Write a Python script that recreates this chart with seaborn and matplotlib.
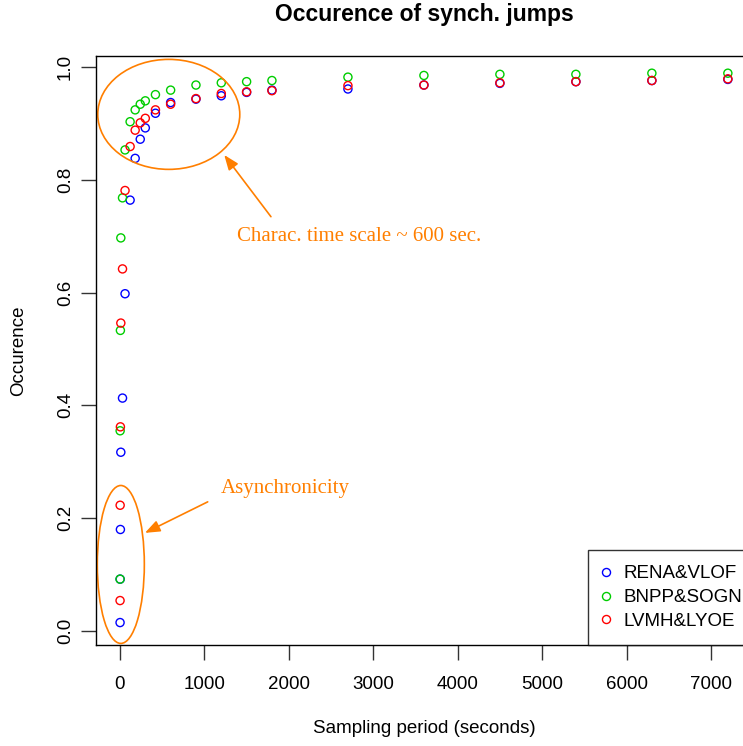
import numpy as np
import pandas as pd
import matplotlib
matplotlib.use("Agg")
import matplotlib.pyplot as plt
import seaborn as sns
from matplotlib.lines import Line2D
from matplotlib.patches import Ellipse

# sampling periods (seconds)
periods = [1, 2, 5, 10, 30, 60, 120, 180, 240, 300, 420, 600, 900, 1200,
           1500, 1800, 2700, 3600, 4500, 5400, 6300, 7200]

# occurence of synchronous jumps per pair
rena_vlof = [0.015, 0.092, 0.180, 0.317, 0.413, 0.598, 0.764, 0.838, 0.872,
             0.892, 0.918, 0.937, 0.943, 0.949, 0.955, 0.959, 0.961, 0.968,
             0.971, 0.974, 0.976, 0.978]
bnpp_sogn = [0.092, 0.355, 0.533, 0.697, 0.768, 0.853, 0.903, 0.924, 0.934,
             0.940, 0.951, 0.959, 0.968, 0.972, 0.974, 0.976, 0.982, 0.985,
             0.987, 0.987, 0.989, 0.989]
lvmh_lyoe = [0.054, 0.223, 0.362, 0.546, 0.642, 0.781, 0.859, 0.888, 0.901,
             0.909, 0.924, 0.934, 0.944, 0.953, 0.956, 0.958, 0.967, 0.968,
             0.972, 0.974, 0.976, 0.979]

pairs = ["RENA&VLOF", "BNPP&SOGN", "LVMH&LYOE"]
colors = {"RENA&VLOF": "#0000FF", "BNPP&SOGN": "#00CD00", "LVMH&LYOE": "#FF0000"}
orange = "#FF7F00"

df = pd.concat([
    pd.DataFrame({"period": periods, "occ": vals, "pair": name})
    for name, vals in zip(pairs, [rena_vlof, bnpp_sogn, lvmh_lyoe])
], ignore_index=True)

sns.set_style("ticks")
plt.rcParams["font.family"] = ["Liberation Sans", "DejaVu Sans"]
plt.rcParams["text.color"] = "black"
plt.rcParams["axes.labelcolor"] = "black"
plt.rcParams["xtick.labelcolor"] = "black"
plt.rcParams["ytick.labelcolor"] = "black"

fig = plt.figure(figsize=(7.43, 7.46), dpi=100)
ax = fig.add_axes([96 / 743, 101 / 746, 656 / 743, 589 / 746])

sns.scatterplot(data=df, x="period", y="occ", hue="pair", palette=colors,
                marker="o", s=34, linewidth=1.0, legend=False, ax=ax)
# open circles like R's pch=1
coll = ax.collections[0]
fc = coll.get_facecolors()
coll.set_edgecolors(fc)
coll.set_facecolors("none")

ax.set_xlim(-284, 7486)
ax.set_ylim(-0.0248, 1.0195)
ax.set_xticks(range(0, 7001, 1000))
ax.set_yticks([0.0, 0.2, 0.4, 0.6, 0.8, 1.0])
ax.set_yticklabels(["0.0", "0.2", "0.4", "0.6", "0.8", "1.0"], rotation=90, va="center")
ax.tick_params(axis="both", length=11, width=1, color="#333333", labelsize=13.5)
ax.tick_params(axis="x", pad=11)
ax.tick_params(axis="y", pad=5)
for sp in ax.spines.values():
    sp.set_visible(True)
    sp.set_linewidth(1.0)
    sp.set_color("black")

ax.set_title("Occurence of synch. jumps", fontsize=16.5, fontweight="bold", pad=25)
ax.set_xlabel("Sampling period (seconds)", fontsize=13.5, labelpad=20)
ax.set_ylabel("Occurence", fontsize=13.5, labelpad=21)

# annotations
ax.add_patch(Ellipse((578, 0.916), 1682, 0.195, fill=False, edgecolor=orange, lw=1.2))
ax.add_patch(Ellipse((10, 0.118), 557, 0.280, fill=False, edgecolor=orange, lw=1.2))
arrow = dict(arrowstyle="-|>,head_length=0.9,head_width=0.35", color=orange, lw=1.2,
             shrinkA=0, shrinkB=0)
ax.annotate("", xy=(1235, 0.844), xytext=(1788, 0.7346), arrowprops=arrow)
ax.annotate("", xy=(296, 0.174), xytext=(1039, 0.229), arrowprops=arrow)
ax.text(2831, 0.699, "Charac. time scale ~ 600 sec.", color=orange, fontsize=15,
        family=["Liberation Serif", "DejaVu Serif"], ha="center", va="center")
ax.text(1960, 0.253, "Asynchronicity", color=orange, fontsize=15,
        family=["Liberation Serif", "DejaVu Serif"], ha="center", va="center")

handles = [Line2D([], [], marker="o", ls="", mfc="none", mec=colors[p], ms=5.8, mew=1.0)
           for p in pairs]
leg = ax.legend(handles, pairs, loc="lower left", bbox_to_anchor=(0.75, 0.0),
                borderaxespad=0, fontsize=13.5, frameon=True, fancybox=False,
                borderpad=0.8, handlelength=0.35, handletextpad=0.75, labelspacing=0.36)
leg.get_frame().set_edgecolor("black")
leg.get_frame().set_linewidth(1.0)

fig.savefig("out.png", dpi=100)
